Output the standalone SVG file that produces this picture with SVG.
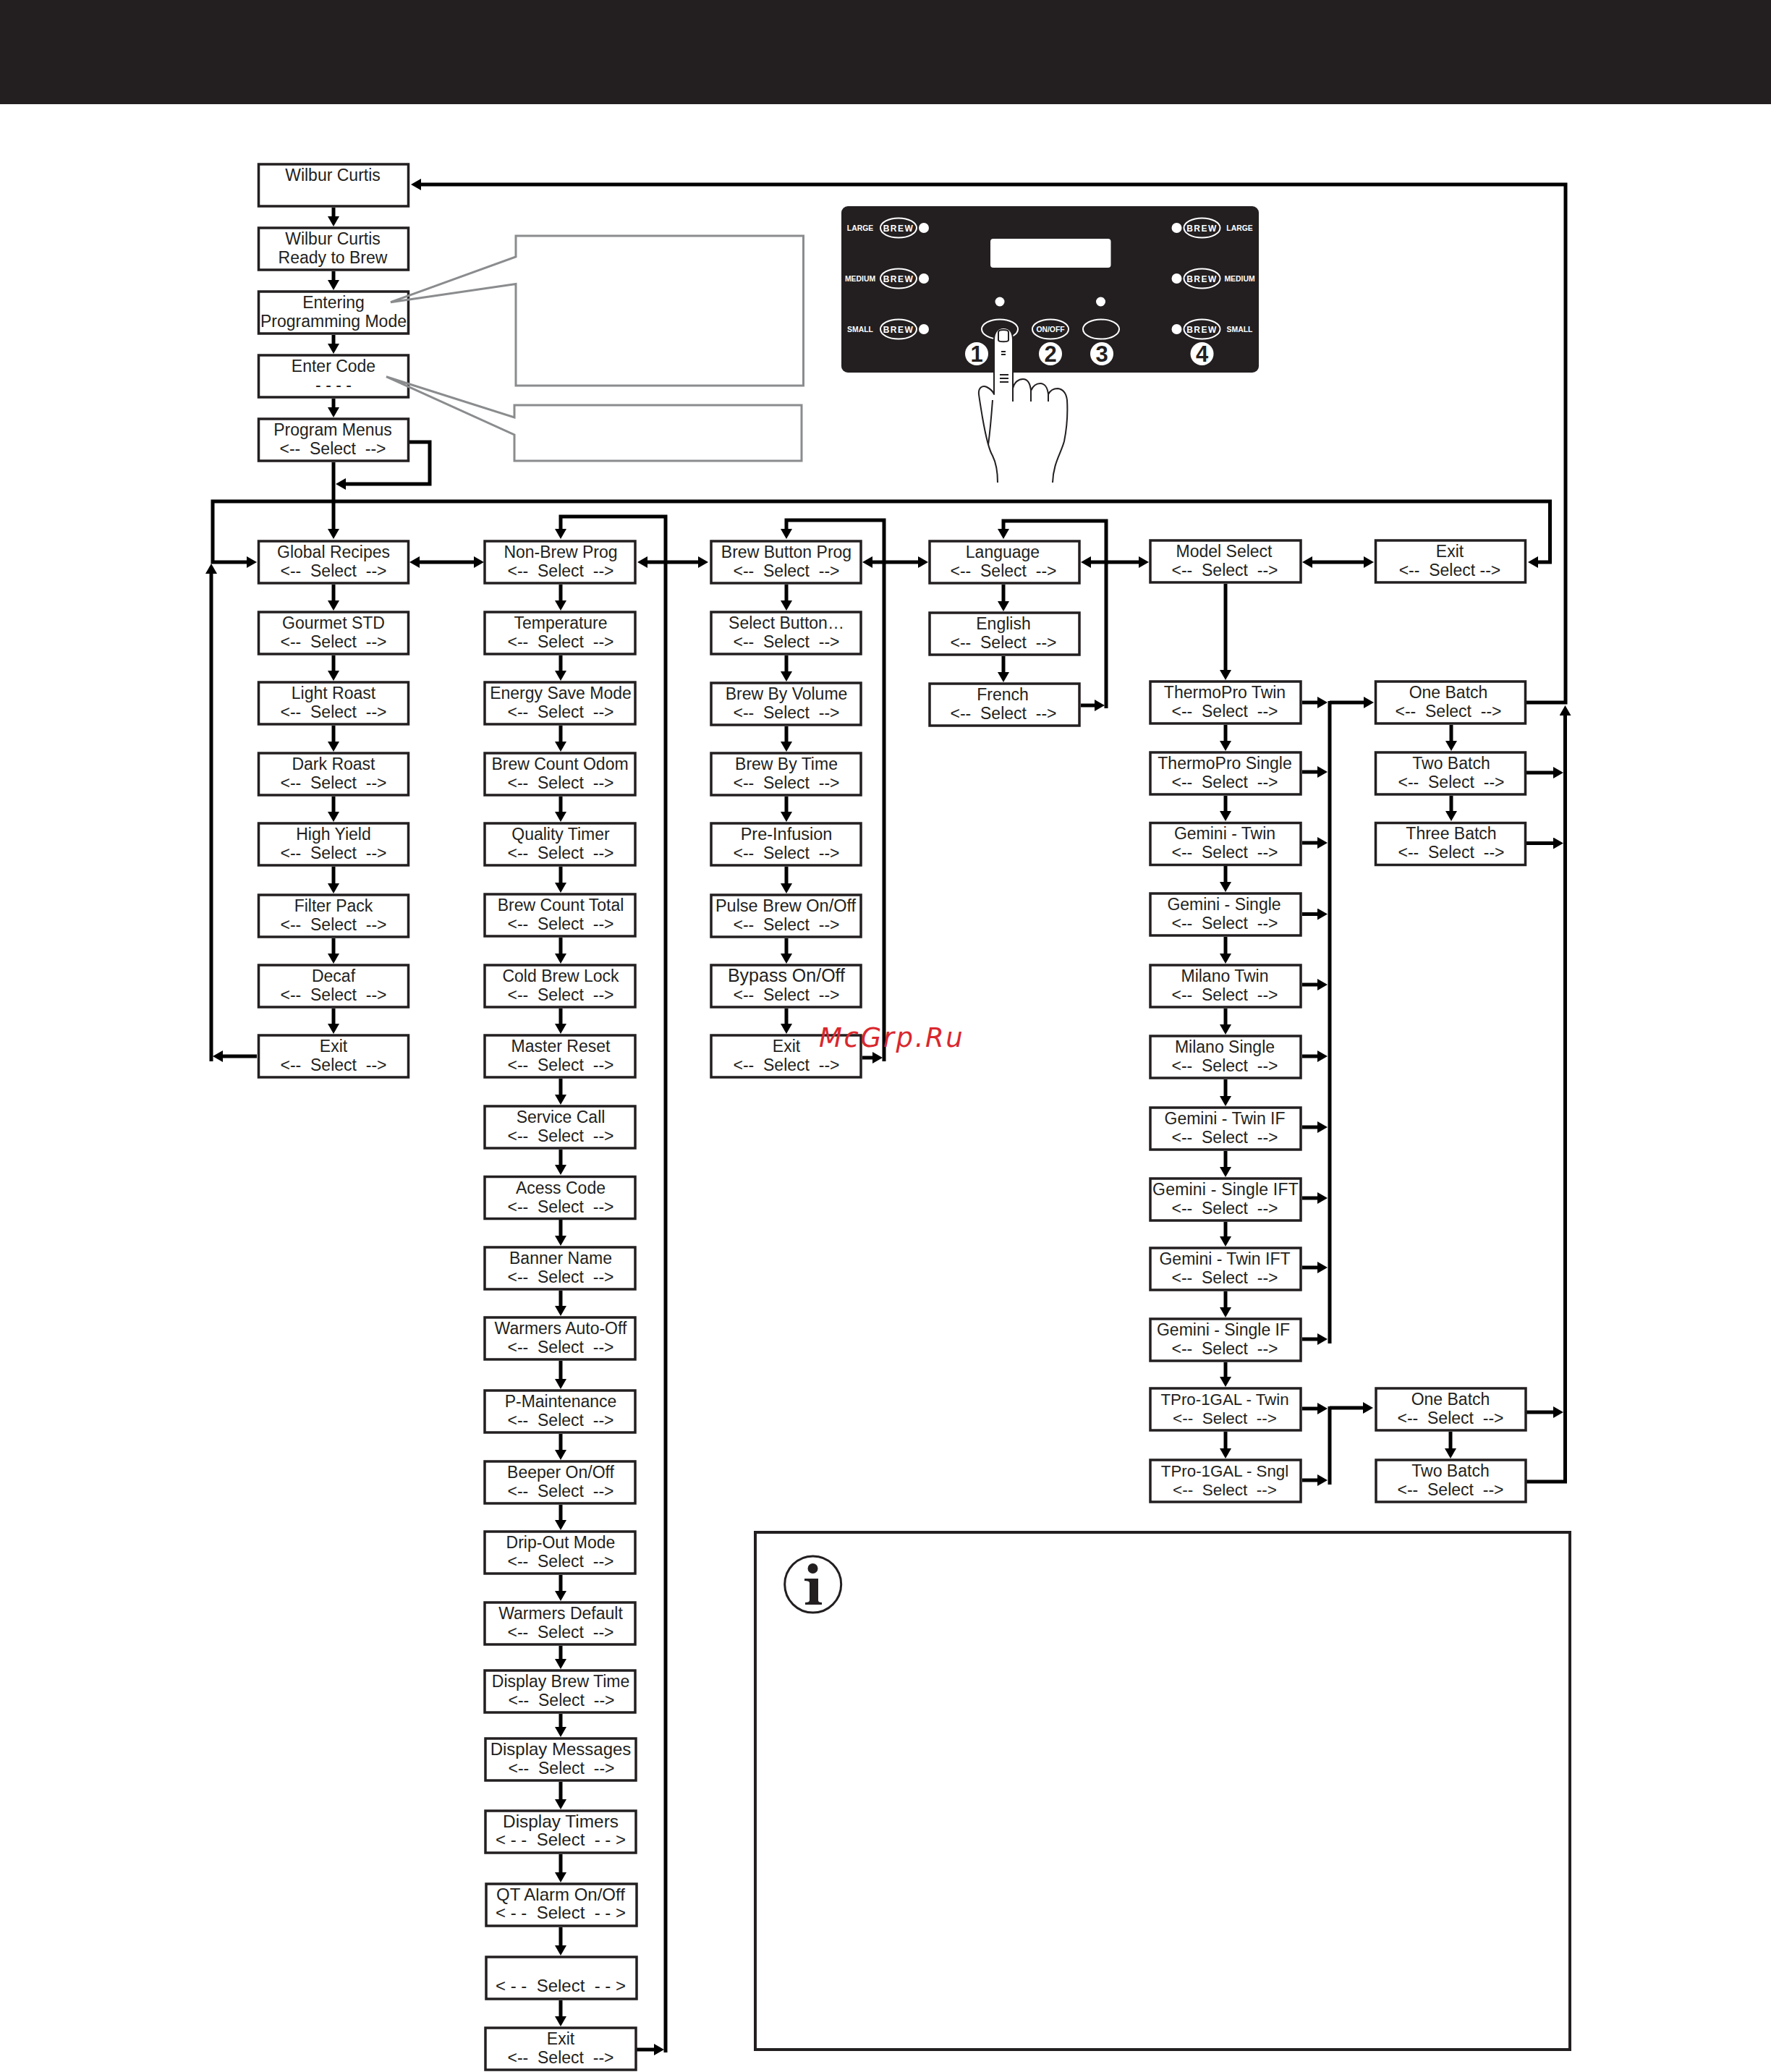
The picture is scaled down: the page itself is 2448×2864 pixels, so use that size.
<svg xmlns="http://www.w3.org/2000/svg" width="2448" height="2864" viewBox="0 0 2448 2864">
<style>
.b{fill:#fff;stroke:#231f20;stroke-width:3.5}
.t{font-family:"Liberation Sans",Arial,sans-serif;font-size:23px;text-anchor:middle;fill:#231f20;white-space:pre}
.c{fill:none;stroke:#000;stroke-width:5;marker-end:url(#a)}
.d{fill:none;stroke:#000;stroke-width:5;marker-start:url(#a);marker-end:url(#a)}
.l{fill:none;stroke:#000;stroke-width:5}
.g{fill:none;stroke:#8a8c8e;stroke-width:3}
.o{fill:none;stroke:#fff;stroke-width:2}
.w{fill:#fff}
.p{font-family:"Liberation Sans",Arial,sans-serif;font-weight:bold;text-anchor:middle;fill:#fff;font-size:10.4px}
.q{font-family:"Liberation Sans",Arial,sans-serif;font-weight:bold;text-anchor:middle;fill:#fff;font-size:12px;letter-spacing:1.5px}
.n{font-family:"Liberation Sans",Arial,sans-serif;font-weight:bold;text-anchor:middle;fill:#231f20;font-size:31px}
.h{fill:#fff;stroke:#231f20;stroke-width:2;stroke-linejoin:round}
.hl{fill:none;stroke:#231f20;stroke-width:2}
</style>
<defs>
<marker id="a" markerUnits="userSpaceOnUse" markerWidth="16" markerHeight="16" refX="8" refY="8" orient="auto-start-reverse"><path d="M0 0L14 8L0 16z" fill="#000"/></marker>
</defs>
<rect width="2448" height="144" fill="#231f20"/>
<g id="connectors">
<path class="c" d="M461 287V307"/>
<path class="c" d="M461 375V395"/>
<path class="c" d="M461 463V483"/>
<path class="c" d="M461 551V571"/>
<path class="c" d="M461 639V739"/>
<path class="c" d="M566 611H594V669H470"/>
<path class="d" d="M349 777H294V693H2142.5V777H2118"/>
<path class="c" d="M292 1467V785"/>
<path class="c" d="M355 1460H300"/>
<path class="d" d="M572 777H663"/>
<path class="d" d="M887 777H973"/>
<path class="d" d="M1198 777H1277"/>
<path class="d" d="M1500 777H1582"/>
<path class="d" d="M1806 777H1893"/>
<path class="c" d="M461 808V838"/><path class="c" d="M461 906V935"/><path class="c" d="M461 1003V1033"/><path class="c" d="M461 1101V1130"/><path class="c" d="M461 1198V1229"/><path class="c" d="M461 1297V1326"/><path class="c" d="M461 1394V1423"/>
<path class="c" d="M920 2837V714H775V739"/>
<path class="c" d="M880 2833H912"/>
<path class="c" d="M775 808V838"/><path class="c" d="M775 906V935"/><path class="c" d="M775 1003V1033"/><path class="c" d="M775 1101V1130"/><path class="c" d="M775 1198V1228"/><path class="c" d="M775 1296V1326"/><path class="c" d="M775 1394V1423"/><path class="c" d="M775 1491V1521"/><path class="c" d="M775 1589V1618"/><path class="c" d="M775 1686V1716"/><path class="c" d="M775 1784V1813"/><path class="c" d="M775 1881V1914"/><path class="c" d="M775 1982V2012"/><path class="c" d="M775 2080V2109"/><path class="c" d="M775 2177V2207"/><path class="c" d="M775 2275V2301"/><path class="c" d="M775 2369V2395"/><path class="c" d="M775 2463V2495"/><path class="c" d="M775 2563V2596"/><path class="c" d="M775 2664V2697"/><path class="c" d="M775 2765V2795"/>
<path class="c" d="M1222 1467V719H1087V739"/>
<path class="c" d="M1192 1462H1214"/>
<path class="c" d="M1087 808V838"/><path class="c" d="M1087 906V936"/><path class="c" d="M1087 1004V1033"/><path class="c" d="M1087 1101V1130"/><path class="c" d="M1087 1198V1229"/><path class="c" d="M1087 1297V1326"/><path class="c" d="M1087 1394V1423"/>
<path class="c" d="M1529 979V720H1387V739"/>
<path class="c" d="M1494 975H1521"/>
<path class="c" d="M1387 808V839"/><path class="c" d="M1387 907V937"/>
<path class="c" d="M1694 807V934"/>
<path class="c" d="M1694 1002V1032"/><path class="c" d="M1694 1100V1129"/><path class="c" d="M1694 1197V1227"/><path class="c" d="M1694 1295V1326"/><path class="c" d="M1694 1394V1424"/><path class="c" d="M1694 1492V1523"/><path class="c" d="M1694 1591V1621"/><path class="c" d="M1694 1689V1717"/><path class="c" d="M1694 1785V1815"/><path class="c" d="M1694 1883V1911"/><path class="c" d="M1694 1979V2010"/>
<path class="c" d="M1800 971H1829"/><path class="c" d="M1800 1067H1829"/><path class="c" d="M1800 1165H1829"/><path class="c" d="M1800 1263.5H1829"/><path class="c" d="M1800 1361H1829"/><path class="c" d="M1800 1460H1829"/><path class="c" d="M1800 1558H1829"/><path class="c" d="M1800 1656H1829"/><path class="c" d="M1800 1752H1829"/><path class="c" d="M1800 1851H1829"/><path class="c" d="M1800 1947H1829"/><path class="c" d="M1800 2046H1829"/>
<path class="l" d="M1838 969V1857"/>
<path class="c" d="M1838 971H1893"/>
<path class="l" d="M1838 1944V2052"/>
<path class="c" d="M1838 1946H1892"/>
<path class="c" d="M2110 971H2164V255H574"/>
<path class="c" d="M2110 2048H2163.5V981"/>
<path class="c" d="M2110 1068H2155"/><path class="c" d="M2110 1165.5H2155"/><path class="c" d="M2110 1952H2155"/>
<path class="c" d="M2006 1002V1032"/><path class="c" d="M2006 1100V1129"/><path class="c" d="M2005 1979V2010"/>
</g>
<g id="n-wilbur"><rect class="b" x="357.5" y="227" width="207" height="58"/><text class="t" x="460" y="250">Wilbur Curtis</text></g>
<g id="n-ready"><rect class="b" x="357.5" y="315" width="207" height="58"/><text class="t" x="460" y="338">Wilbur Curtis</text><text class="t" x="460" y="364">Ready to Brew</text></g>
<g id="n-entering"><rect class="b" x="357.5" y="403" width="207" height="58"/><text class="t" x="461" y="426">Entering</text><text class="t" x="461" y="452">Programming Mode</text></g>
<g id="n-code"><rect class="b" x="357.5" y="491" width="207" height="58"/><text class="t" x="461" y="514">Enter Code</text><text class="t" x="461" y="540">- - - -</text></g>
<g id="n-menus"><rect class="b" x="357.5" y="579" width="207" height="58"/><text class="t" x="460" y="602">Program Menus</text><text class="t" x="460" y="628">&lt;--  Select  --&gt;</text></g>

<g id="n-global"><rect class="b" x="357.5" y="748" width="207" height="58"/><text class="t" x="461" y="771">Global Recipes</text><text class="t" x="461" y="797">&lt;--  Select  --&gt;</text></g>
<g id="n-gourmet"><rect class="b" x="357.5" y="846" width="207" height="58"/><text class="t" x="461" y="869">Gourmet STD</text><text class="t" x="461" y="895">&lt;--  Select  --&gt;</text></g>
<g id="n-light"><rect class="b" x="357.5" y="943" width="207" height="58"/><text class="t" x="461" y="966">Light Roast</text><text class="t" x="461" y="992">&lt;--  Select  --&gt;</text></g>
<g id="n-dark"><rect class="b" x="357.5" y="1041" width="207" height="58"/><text class="t" x="461" y="1064">Dark Roast</text><text class="t" x="461" y="1090">&lt;--  Select  --&gt;</text></g>
<g id="n-high"><rect class="b" x="357.5" y="1138" width="207" height="58"/><text class="t" x="461" y="1161">High Yield</text><text class="t" x="461" y="1187">&lt;--  Select  --&gt;</text></g>
<g id="n-filter"><rect class="b" x="357.5" y="1237" width="207" height="58"/><text class="t" x="461" y="1260">Filter Pack</text><text class="t" x="461" y="1286">&lt;--  Select  --&gt;</text></g>
<g id="n-decaf"><rect class="b" x="357.5" y="1334" width="207" height="58"/><text class="t" x="461" y="1357">Decaf</text><text class="t" x="461" y="1383">&lt;--  Select  --&gt;</text></g>
<g id="n-exit1"><rect class="b" x="357.5" y="1431" width="207" height="58"/><text class="t" x="461" y="1454">Exit</text><text class="t" x="461" y="1480">&lt;--  Select  --&gt;</text></g>

<g id="n-nonbrew"><rect class="b" x="670" y="748" width="208" height="58"/><text class="t" x="775" y="771">Non-Brew Prog</text><text class="t" x="775" y="797">&lt;--  Select  --&gt;</text></g>
<g id="n-temp"><rect class="b" x="670" y="846" width="208" height="58"/><text class="t" x="775" y="869">Temperature</text><text class="t" x="775" y="895">&lt;--  Select  --&gt;</text></g>
<g id="n-energy"><rect class="b" x="670" y="943" width="208" height="58"/><text class="t" x="775" y="966">Energy Save Mode</text><text class="t" x="775" y="992">&lt;--  Select  --&gt;</text></g>
<g id="n-odom"><rect class="b" x="670" y="1041" width="208" height="58"/><text class="t" x="774" y="1064">Brew Count Odom</text><text class="t" x="775" y="1090">&lt;--  Select  --&gt;</text></g>
<g id="n-quality"><rect class="b" x="670" y="1138" width="208" height="58"/><text class="t" x="775" y="1161">Quality Timer</text><text class="t" x="775" y="1187">&lt;--  Select  --&gt;</text></g>
<g id="n-total"><rect class="b" x="670" y="1236" width="208" height="58"/><text class="t" x="775" y="1259">Brew Count Total</text><text class="t" x="775" y="1285">&lt;--  Select  --&gt;</text></g>
<g id="n-lock"><rect class="b" x="670" y="1334" width="208" height="58"/><text class="t" x="775" y="1357">Cold Brew Lock</text><text class="t" x="775" y="1383">&lt;--  Select  --&gt;</text></g>
<g id="n-master"><rect class="b" x="670" y="1431" width="208" height="58"/><text class="t" x="775" y="1454">Master Reset</text><text class="t" x="775" y="1480">&lt;--  Select  --&gt;</text></g>
<g id="n-service"><rect class="b" x="670" y="1529" width="208" height="58"/><text class="t" x="775" y="1552">Service Call</text><text class="t" x="775" y="1578">&lt;--  Select  --&gt;</text></g>
<g id="n-access"><rect class="b" x="670" y="1626.5" width="208" height="58"/><text class="t" x="775" y="1650">Acess Code</text><text class="t" x="775" y="1676">&lt;--  Select  --&gt;</text></g>
<g id="n-banner"><rect class="b" x="670" y="1724" width="208" height="58"/><text class="t" x="775" y="1747">Banner Name</text><text class="t" x="775" y="1773">&lt;--  Select  --&gt;</text></g>
<g id="n-warmers"><rect class="b" x="670" y="1821" width="208" height="58"/><text class="t" x="775" y="1844">Warmers Auto-Off</text><text class="t" x="775" y="1870">&lt;--  Select  --&gt;</text></g>
<g id="n-pm"><rect class="b" x="670" y="1922" width="208" height="58"/><text class="t" x="775" y="1945">P-Maintenance</text><text class="t" x="775" y="1971">&lt;--  Select  --&gt;</text></g>
<g id="n-beeper"><rect class="b" x="670" y="2020" width="208" height="58"/><text class="t" x="775" y="2043">Beeper On/Off</text><text class="t" x="775" y="2069">&lt;--  Select  --&gt;</text></g>
<g id="n-drip"><rect class="b" x="670" y="2117" width="208" height="58"/><text class="t" x="775" y="2140">Drip-Out Mode</text><text class="t" x="775" y="2166">&lt;--  Select  --&gt;</text></g>
<g id="n-wdefault"><rect class="b" x="670" y="2215" width="208" height="58"/><text class="t" x="775" y="2238">Warmers Default</text><text class="t" x="775" y="2264">&lt;--  Select  --&gt;</text></g>
<g id="n-dbt"><rect class="b" x="670" y="2309" width="208" height="58"/><text class="t" x="775" y="2332">Display Brew Time</text><text class="t" x="776" y="2358">&lt;--  Select  --&gt;</text></g>
<g id="n-dmsg"><rect class="b" x="671" y="2403" width="208" height="58"/><text class="t" x="775" y="2426" style="font-size:24px">Display Messages</text><text class="t" x="776" y="2452">&lt;--  Select  --&gt;</text></g>
<g id="n-dtimers"><rect class="b" x="671" y="2503" width="208" height="58"/><text class="t" x="775" y="2526" style="font-size:24.4px">Display Timers</text><text class="t" x="775" y="2551" style="font-size:24px">&lt; - -  Select  - - &gt;</text></g>
<g id="n-qt"><rect class="b" x="672" y="2604" width="208" height="58"/><text class="t" x="775" y="2627" style="font-size:24px">QT Alarm On/Off</text><text class="t" x="775" y="2652" style="font-size:24px">&lt; - -  Select  - - &gt;</text></g>
<g id="n-blank"><rect class="b" x="672" y="2705" width="208" height="58"/><text class="t" x="775" y="2753" style="font-size:24px">&lt; - -  Select  - - &gt;</text></g>
<g id="n-exit2"><rect class="b" x="671" y="2803" width="208" height="58"/><text class="t" x="775" y="2826">Exit</text><text class="t" x="775" y="2852">&lt;--  Select  --&gt;</text></g>

<g id="n-brewbtn"><rect class="b" x="983" y="748" width="207" height="58"/><text class="t" x="1087" y="771">Brew Button Prog</text><text class="t" x="1087" y="797">&lt;--  Select  --&gt;</text></g>
<g id="n-selbtn"><rect class="b" x="983" y="846" width="207" height="58"/><text class="t" x="1087" y="869">Select Button…</text><text class="t" x="1087" y="895">&lt;--  Select  --&gt;</text></g>
<g id="n-volume"><rect class="b" x="983" y="944" width="207" height="58"/><text class="t" x="1087" y="967">Brew By Volume</text><text class="t" x="1087" y="993">&lt;--  Select  --&gt;</text></g>
<g id="n-time"><rect class="b" x="983" y="1041" width="207" height="58"/><text class="t" x="1087" y="1064">Brew By Time</text><text class="t" x="1087" y="1090">&lt;--  Select  --&gt;</text></g>
<g id="n-preinf"><rect class="b" x="983" y="1138" width="207" height="58"/><text class="t" x="1087" y="1161" style="font-size:23.5px">Pre-Infusion</text><text class="t" x="1087" y="1187">&lt;--  Select  --&gt;</text></g>
<g id="n-pulse"><rect class="b" x="983" y="1237" width="207" height="58"/><text class="t" x="1086" y="1260" style="font-size:23.5px">Pulse Brew On/Off</text><text class="t" x="1087" y="1286">&lt;--  Select  --&gt;</text></g>
<g id="n-bypass"><rect class="b" x="983" y="1334" width="207" height="58"/><text class="t" x="1087" y="1357" style="font-size:25px">Bypass On/Off</text><text class="t" x="1087" y="1383">&lt;--  Select  --&gt;</text></g>
<g id="n-exit3"><rect class="b" x="983" y="1431" width="207" height="58"/><text class="t" x="1087" y="1454">Exit</text><text class="t" x="1087" y="1480">&lt;--  Select  --&gt;</text></g>

<g id="n-language"><rect class="b" x="1285" y="748" width="207" height="58"/><text class="t" x="1386" y="771">Language</text><text class="t" x="1387" y="797">&lt;--  Select  --&gt;</text></g>
<g id="n-english"><rect class="b" x="1285" y="847" width="207" height="58"/><text class="t" x="1387" y="870">English</text><text class="t" x="1387" y="896">&lt;--  Select  --&gt;</text></g>
<g id="n-french"><rect class="b" x="1285" y="945" width="207" height="58"/><text class="t" x="1386" y="968">French</text><text class="t" x="1387" y="994">&lt;--  Select  --&gt;</text></g>

<g id="n-model"><rect class="b" x="1590" y="747" width="208" height="58"/><text class="t" x="1692" y="770">Model Select</text><text class="t" x="1693" y="796">&lt;--  Select  --&gt;</text></g>
<g id="n-ttwin"><rect class="b" x="1590" y="942" width="208" height="58"/><text class="t" x="1693" y="965">ThermoPro Twin</text><text class="t" x="1693" y="991">&lt;--  Select  --&gt;</text></g>
<g id="n-tsingle"><rect class="b" x="1590" y="1040" width="208" height="58"/><text class="t" x="1693" y="1063">ThermoPro Single</text><text class="t" x="1693" y="1089">&lt;--  Select  --&gt;</text></g>
<g id="n-gtwin"><rect class="b" x="1590" y="1137.5" width="208" height="58"/><text class="t" x="1693" y="1160">Gemini - Twin</text><text class="t" x="1693" y="1186">&lt;--  Select  --&gt;</text></g>
<g id="n-gsingle"><rect class="b" x="1590" y="1235" width="208" height="58"/><text class="t" x="1692" y="1258">Gemini - Single</text><text class="t" x="1693" y="1284">&lt;--  Select  --&gt;</text></g>
<g id="n-mtwin"><rect class="b" x="1590" y="1334" width="208" height="58"/><text class="t" x="1693" y="1357">Milano Twin</text><text class="t" x="1693" y="1383">&lt;--  Select  --&gt;</text></g>
<g id="n-msingle"><rect class="b" x="1590" y="1432" width="208" height="58"/><text class="t" x="1693" y="1455">Milano Single</text><text class="t" x="1693" y="1481">&lt;--  Select  --&gt;</text></g>
<g id="n-gtif"><rect class="b" x="1590" y="1531" width="208" height="58"/><text class="t" x="1693" y="1554">Gemini - Twin IF</text><text class="t" x="1693" y="1580">&lt;--  Select  --&gt;</text></g>
<g id="n-gsift"><rect class="b" x="1590" y="1629" width="208" height="58"/><text class="t" x="1694" y="1652" style="letter-spacing:.2px">Gemini - Single IFT</text><text class="t" x="1693" y="1678">&lt;--  Select  --&gt;</text></g>
<g id="n-gtift"><rect class="b" x="1590" y="1725" width="208" height="58"/><text class="t" x="1693" y="1748">Gemini - Twin IFT</text><text class="t" x="1693" y="1774">&lt;--  Select  --&gt;</text></g>
<g id="n-gsif"><rect class="b" x="1590" y="1823" width="208" height="58"/><text class="t" x="1691" y="1846">Gemini - Single IF</text><text class="t" x="1693" y="1872">&lt;--  Select  --&gt;</text></g>
<g id="n-tptwin"><rect class="b" x="1590" y="1919" width="208" height="58"/><text class="t" x="1693" y="1942" style="font-size:22.3px">TPro-1GAL - Twin</text><text class="t" x="1693" y="1968" style="font-size:22.5px">&lt;--  Select  --&gt;</text></g>
<g id="n-tpsngl"><rect class="b" x="1590" y="2018" width="208" height="58"/><text class="t" x="1693" y="2041" style="font-size:22.3px">TPro-1GAL - Sngl</text><text class="t" x="1693" y="2067" style="font-size:22.5px">&lt;--  Select  --&gt;</text></g>

<g id="n-exit4"><rect class="b" x="1901.5" y="747" width="207" height="58"/><text class="t" x="2004" y="770">Exit</text><text class="t" x="2004" y="796">&lt;--  Select --&gt;</text></g>
<g id="n-one1"><rect class="b" x="1901.5" y="942" width="207" height="58"/><text class="t" x="2002" y="965">One Batch</text><text class="t" x="2002" y="991">&lt;--  Select  --&gt;</text></g>
<g id="n-two1"><rect class="b" x="1901.5" y="1040" width="207" height="58"/><text class="t" x="2006" y="1063">Two Batch</text><text class="t" x="2006" y="1089">&lt;--  Select  --&gt;</text></g>
<g id="n-three"><rect class="b" x="1901.5" y="1137.5" width="207" height="58"/><text class="t" x="2006" y="1160">Three Batch</text><text class="t" x="2006" y="1186">&lt;--  Select  --&gt;</text></g>
<g id="n-one2"><rect class="b" x="1902" y="1919" width="207" height="58"/><text class="t" x="2005" y="1942">One Batch</text><text class="t" x="2005" y="1968">&lt;--  Select  --&gt;</text></g>
<g id="n-two2"><rect class="b" x="1902" y="2018" width="207" height="58"/><text class="t" x="2005" y="2041">Two Batch</text><text class="t" x="2005" y="2067">&lt;--  Select  --&gt;</text></g>

<polygon class="g" points="713,326 1110.5,326 1110.5,533 713,533 713,392.5 540,417.7 713,355"/>
<polygon class="g" points="711,560 1108,560 1108,637 711,637 711,601 534,520.7 711,577"/>

<g id="panel">
<rect x="1163" y="285" width="577" height="230" rx="9" fill="#231f20"/>
<rect x="1369" y="330" width="166.5" height="40" rx="4" class="w"/>
<ellipse class="o" cx="1242" cy="315" rx="25" ry="13.5"/><ellipse class="o" cx="1242" cy="385" rx="25" ry="13.5"/><ellipse class="o" cx="1242" cy="455" rx="25" ry="13.5"/>
<ellipse class="o" cx="1661.5" cy="315" rx="25" ry="13.5"/><ellipse class="o" cx="1661.5" cy="385" rx="25" ry="13.5"/><ellipse class="o" cx="1661.5" cy="455" rx="25" ry="13.5"/>
<ellipse class="o" cx="1382" cy="455" rx="25" ry="13.5"/><ellipse class="o" cx="1452" cy="455" rx="25" ry="13.5"/><ellipse class="o" cx="1522" cy="455" rx="25" ry="13.5"/>
<circle class="w" cx="1277" cy="315" r="7"/><circle class="w" cx="1277" cy="385" r="7"/><circle class="w" cx="1277" cy="455" r="7"/>
<circle class="w" cx="1626.5" cy="315" r="7"/><circle class="w" cx="1626.5" cy="385" r="7"/><circle class="w" cx="1626.5" cy="455" r="7"/>
<circle class="w" cx="1382" cy="417" r="6.5"/><circle class="w" cx="1521.5" cy="417" r="6.5"/>
<text class="q" x="1242" y="319.5">BREW</text><text class="q" x="1242" y="389.5">BREW</text><text class="q" x="1242" y="459.5">BREW</text>
<text class="q" x="1661.5" y="319.5">BREW</text><text class="q" x="1661.5" y="389.5">BREW</text><text class="q" x="1661.5" y="459.5">BREW</text>
<text class="p" x="1189" y="319">LARGE</text><text class="p" x="1189" y="389">MEDIUM</text><text class="p" x="1189" y="459">SMALL</text>
<text class="p" x="1713.5" y="319">LARGE</text><text class="p" x="1713.5" y="389">MEDIUM</text><text class="p" x="1713.5" y="459">SMALL</text>
<text class="p" x="1452" y="459">ON/OFF</text>
<circle class="w" cx="1350" cy="489" r="16"/><circle class="w" cx="1452" cy="489" r="16"/><circle class="w" cx="1523" cy="489" r="16"/><circle class="w" cx="1661.5" cy="489" r="16"/>
<text class="n" x="1350" y="500">1</text><text class="n" x="1452" y="500">2</text><text class="n" x="1523" y="500">3</text><text class="n" x="1661.5" y="500">4</text>
<g id="hand">
<path class="h" d="M1379 667C1379 650 1377 640 1372 630C1366 620 1362 600 1358 577C1356 565 1354 553 1353 545C1352 536 1358 532 1364 535C1368 537 1372 540 1374 545V470C1374 458 1380 453 1387 453C1395 453 1400 458 1400 470V537C1402 528 1408 524 1414 524C1420 524 1424 530 1425 540C1428 533 1433 530 1438 530C1444 530 1448 536 1449 545C1452 539 1457 537 1462 537C1470 538 1474 545 1475 553C1476 570 1475 590 1471 610C1466 628 1456 640 1455 667"/>
<path class="hl" d="M1400 500V555M1425 538V555M1449 543V555M1372 553C1370 580 1368 600 1366 615"/>
<path class="hl" d="M1380 459C1380 455 1394 455 1394 459V470C1394 473 1380 473 1380 470Z"/>
<path class="hl" d="M1384 486H1390M1384 490H1390M1382 518H1394M1382 523H1394M1382 528H1394"/>
</g>
</g>
<g id="note">
<rect x="1044" y="2118" width="1126" height="715" fill="none" stroke="#231f20" stroke-width="4"/>
<circle cx="1123.7" cy="2190" r="39" fill="none" stroke="#231f20" stroke-width="3"/>
<circle cx="1123.5" cy="2168" r="7" fill="#231f20"/>
<path d="M1112 2182H1131V2212Q1131 2215 1136 2215V2218H1113V2215Q1119 2215 1119 2212V2188Q1119 2185 1112 2185Z" fill="#231f20"/>
</g>
<text x="1132" y="1447" font-family="DejaVu Sans,sans-serif" font-style="italic" font-size="37" letter-spacing="2.6" fill="#d9272e">McGrp.Ru</text>
</svg>
